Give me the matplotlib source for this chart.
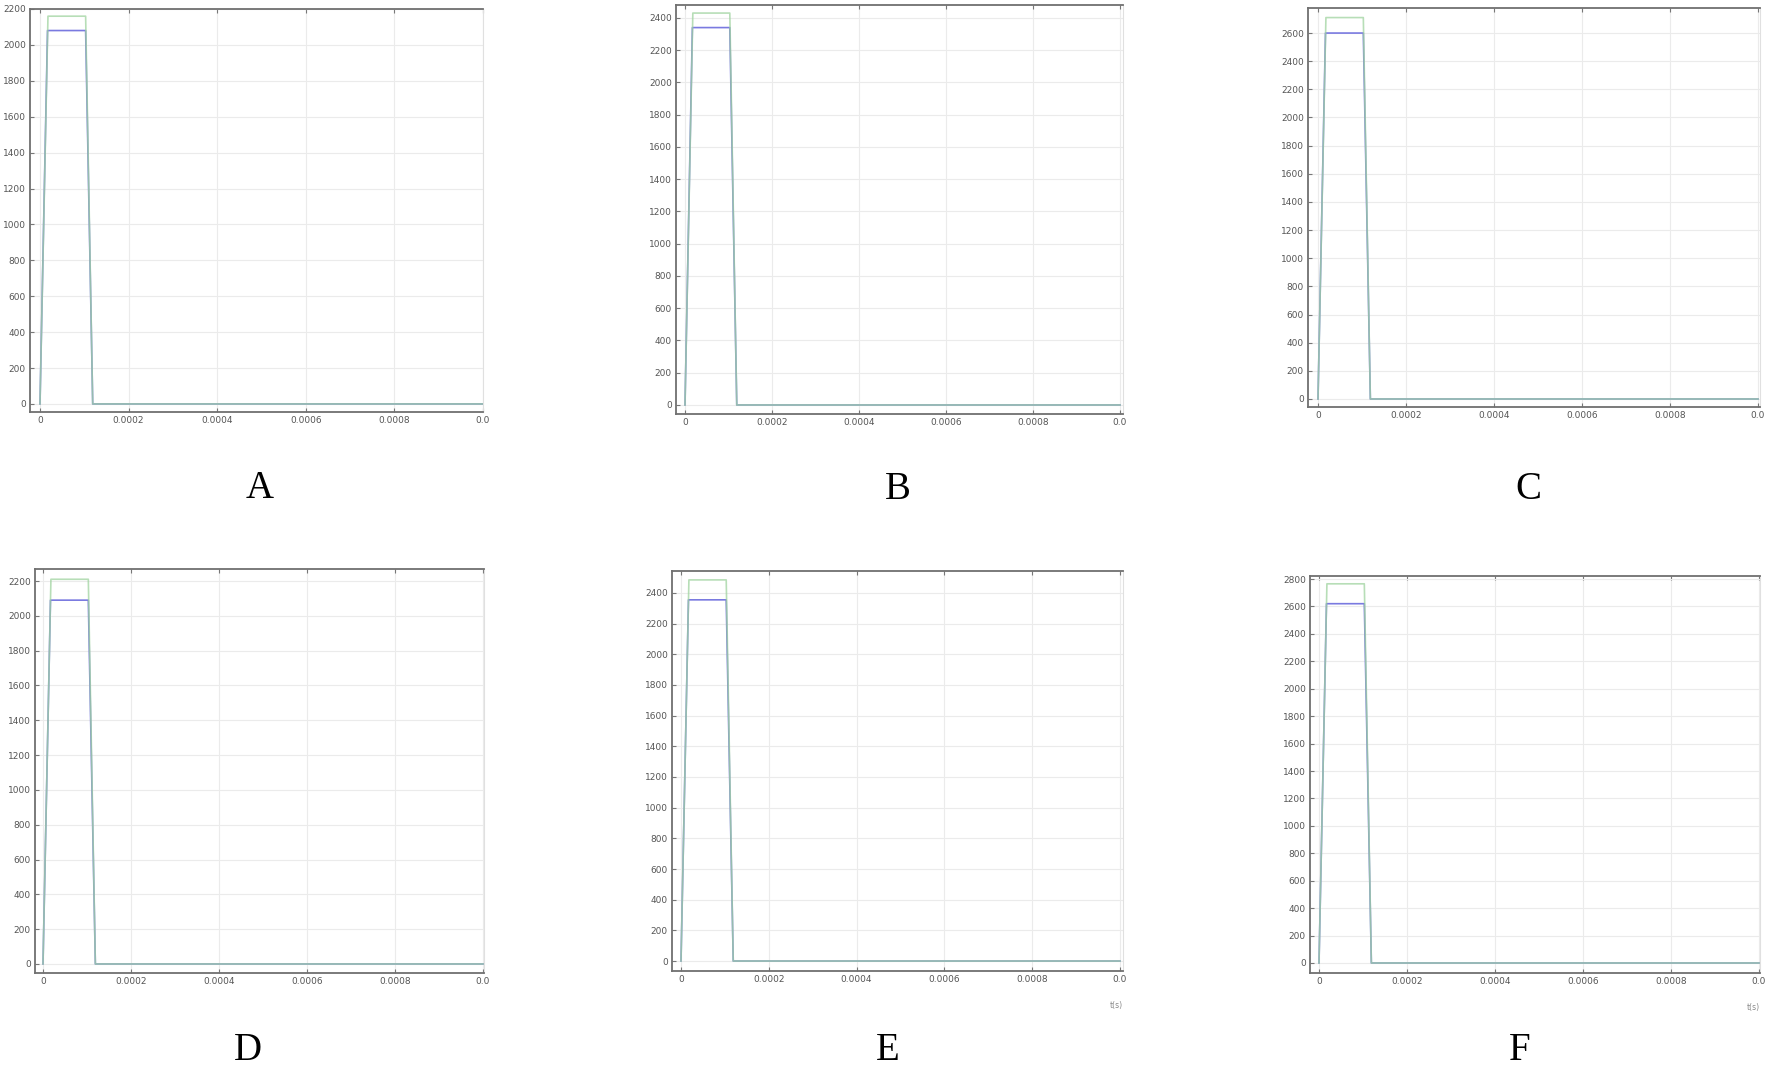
import numpy as np
import matplotlib.pyplot as plt

# panel letters and plateau levels
panels = ['A', 'B', 'C', 'D', 'E', 'F']
green_peak = [2160, 2430, 2710, 2210, 2485, 2765]
blue_peak = [2080, 2340, 2600, 2090, 2355, 2620]
y_top_tick = [2200, 2400, 2600, 2200, 2400, 2800]
y_limits = [(-45, 2200), (-56, 2480), (-57, 2778), (-52, 2269), (-65, 2543), (-73, 2822)]

# pulse shape (time in s)
t_pulse = [0.0, 1.8e-5, 1.03e-4, 1.19e-4, 1.0e-3]
t_pulse_blue = [0.0, 1.7e-5, 1.03e-4, 1.19e-4, 1.0e-3]
x_ticks = [0, 0.0002, 0.0004, 0.0006, 0.0008, 0.001]
x_tick_labels = ['0', '0.0002', '0.0004', '0.0006', '0.0008', '0.0']

# axes boxes in pixels: left, top, right, bottom
W, H = 1772, 1070
boxes = [(30, 9, 483, 412), (676, 5, 1123, 414), (1308, 8, 1760, 407),
         (35, 569, 484, 973), (672, 571, 1123, 971), (1310, 576, 1760, 973)]
letter_pos = [(260, 489), (898, 490), (1528, 490), (248, 1050), (888, 1050), (1520, 1050)]
x_left_pad = [10, 9, 10, 8, 9, 9]   # px between left spine and x=0
x_span = [443, 435, 440, 440, 439, 440]  # px from 0 to 0.001

fig = plt.figure(figsize=(W / 100, H / 100), dpi=100)

for i, name in enumerate(panels):
    l, t, r, b = boxes[i]
    ax = fig.add_axes([l / W, 1 - b / H, (r - l) / W, (b - t) / H])
    g = [0, green_peak[i], green_peak[i], 0, 0]
    bl = [0, blue_peak[i], blue_peak[i], 0, 0]
    ax.plot(t_pulse_blue, bl, color='#7a7ae0', lw=1.2, zorder=3)
    ax.plot(t_pulse, g, color='#9fd39f', lw=1.2, alpha=0.75, zorder=4)

    x0 = -x_left_pad[i] / x_span[i] * 0.001
    x1 = (r - l - x_left_pad[i]) / x_span[i] * 0.001
    ax.set_xlim(x0, x1)
    ax.set_ylim(*y_limits[i])
    ax.set_yticks(np.arange(0, y_top_tick[i] + 1, 200))
    ax.set_xticks(x_ticks)
    ax.set_xticklabels(x_tick_labels)
    ax.grid(True, color='#ebebeb', lw=0.8)
    ax.tick_params(axis='both', labelsize=6.5, labelcolor='#555555', color='#777777',
                   direction='in', length=3, width=0.8, pad=3)
    ax.tick_params(axis='x', top=True)
    for side in ['left', 'bottom', 'top']:
        ax.spines[side].set_color('#707070')
        ax.spines[side].set_linewidth(1.3)
    ax.spines['right'].set_color('#e0e0e0')
    ax.spines['right'].set_linewidth(0.8)

    if name in ('E', 'F'):
        ax.text(1.0, -0.075, 't(s)', transform=ax.transAxes, ha='right', va='top',
                fontsize=5.5, color='#888888')

    lx, ly = letter_pos[i]
    fig.text(lx / W, 1 - ly / H, name, ha='center', va='center',
             fontsize=28, family='Liberation Serif', color='black')

fig.savefig('out.png', dpi=100, facecolor='white')
